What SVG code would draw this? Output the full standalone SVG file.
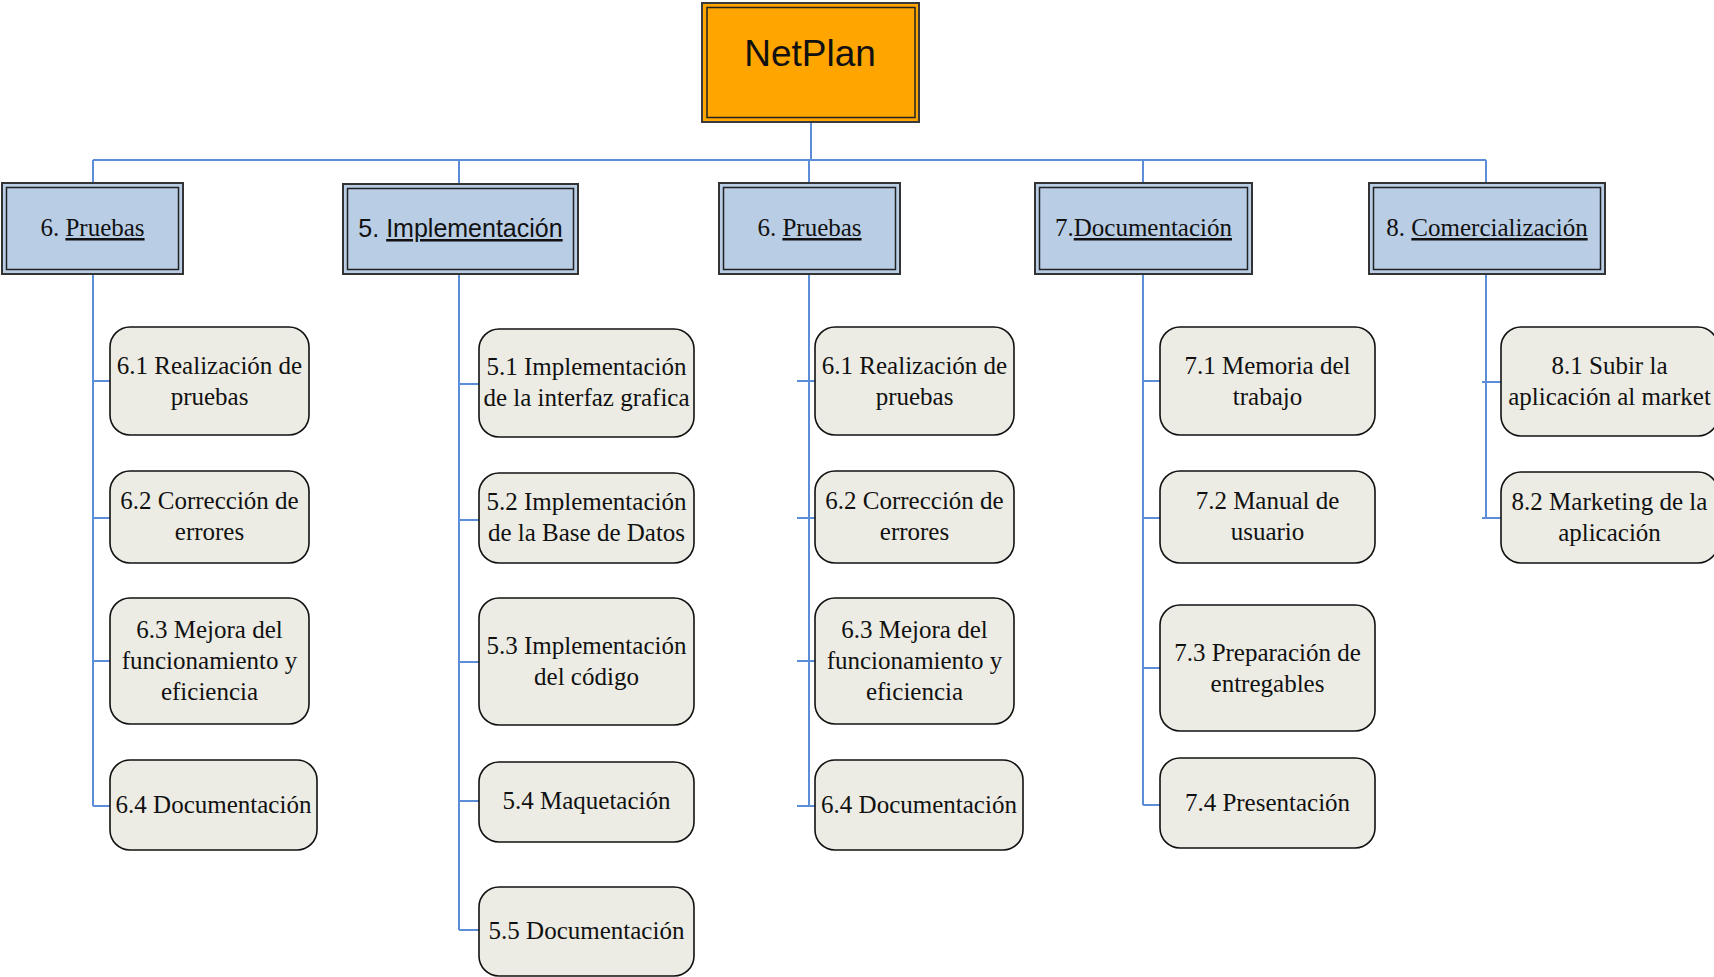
<svg xmlns="http://www.w3.org/2000/svg" width="1714" height="977" viewBox="0 0 1714 977">
  <style>
    .conn { fill: none; stroke: #5B8DD9; stroke-width: 2; }
    .root-outer { fill: #FFA500; stroke: #3a3a3a; stroke-width: 2; }
    .root-inner { fill: none; stroke: #222; stroke-width: 1.5; }
    .hdr-outer { fill: #B9CDE5; stroke: #333; stroke-width: 2; }
    .hdr-inner { fill: none; stroke: #222; stroke-width: 1.5; }
    .task { fill: #ECECE4; stroke: #111; stroke-width: 1.6; }
    .sans { font-family: "Liberation Sans", Arial, sans-serif; fill: #111; text-anchor: middle; }
    .serif { font-family: "Liberation Serif", "Times New Roman", serif; font-size: 25px; fill: #111; text-anchor: middle; }
    .u { text-decoration: underline; }
  </style>

  <rect width="1714" height="977" fill="#ffffff"/>

  <!-- connector lines -->
  <g id="connectors">
    <path class="conn" d="M811 122 V160 M93 160 H1486"/>
    <path class="conn" d="M93 160 V183 M459 160 V184 M809 160 V183 M1143 160 V183 M1486 160 V183"/>
    <!-- branch 6 (left) -->
    <path class="conn" d="M93 274 V806 M93 381 H110 M93 518 H110 M93 661 H110 M93 806 H110"/>
    <!-- branch 5 -->
    <path class="conn" d="M459 274 V930 M459 384 H479 M459 520 H479 M459 662 H479 M459 801 H479 M459 930 H479"/>
    <!-- branch 6 (middle) -->
    <path class="conn" d="M809 274 V806 M797 381 H815 M797 518 H815 M797 661 H815 M797 806 H815"/>
    <!-- branch 7 -->
    <path class="conn" d="M1143 274 V805 M1143 381 H1160 M1143 518 H1160 M1143 668 H1160 M1143 805 H1160"/>
    <!-- branch 8 -->
    <path class="conn" d="M1486 274 V518 M1482 382 H1501 M1482 518 H1501"/>
  </g>

  <!-- root -->
  <g id="netplan">
    <rect class="root-outer" x="702" y="3" width="217" height="119"/>
    <rect class="root-inner" x="707" y="7.5" width="208" height="110"/>
    <text class="sans" x="810" y="66" font-size="37">NetPlan</text>
  </g>

  <!-- phase headers -->
  <g id="h-pruebas-a">
    <rect class="hdr-outer" x="2" y="183" width="181" height="91"/>
    <rect class="hdr-inner" x="6.5" y="187.5" width="172" height="82"/>
    <text class="serif" x="92.5" y="236">6. <tspan class="u">Pruebas</tspan></text>
  </g>
  <g id="h-implementacion">
    <rect class="hdr-outer" x="343" y="184" width="235" height="90"/>
    <rect class="hdr-inner" x="347.5" y="188.5" width="226" height="81"/>
    <text class="sans" x="460.5" y="237" font-size="25">5. <tspan class="u">Implementación</tspan></text>
  </g>
  <g id="h-pruebas-b">
    <rect class="hdr-outer" x="719" y="183" width="181" height="91"/>
    <rect class="hdr-inner" x="723.5" y="187.5" width="172" height="82"/>
    <text class="serif" x="809.5" y="236">6. <tspan class="u">Pruebas</tspan></text>
  </g>
  <g id="h-documentacion">
    <rect class="hdr-outer" x="1035" y="183" width="217" height="91"/>
    <rect class="hdr-inner" x="1039.5" y="187.5" width="208" height="82"/>
    <text class="serif" x="1143.5" y="236">7.<tspan class="u">Documentación</tspan></text>
  </g>
  <g id="h-comercializacion">
    <rect class="hdr-outer" x="1369" y="183" width="236" height="91"/>
    <rect class="hdr-inner" x="1373.5" y="187.5" width="227" height="82"/>
    <text class="serif" x="1487" y="236">8. <tspan class="u">Comercialización</tspan></text>
  </g>

  <!-- branch 6 (left) tasks -->
  <g id="t6-1a">
    <rect class="task" x="110" y="327" width="199" height="108" rx="20"/>
    <text class="serif" x="209.5" y="374">6.1 Realización de</text>
    <text class="serif" x="209.5" y="405">pruebas</text>
  </g>
  <g id="t6-2a">
    <rect class="task" x="110" y="471" width="199" height="92" rx="20"/>
    <text class="serif" x="209.5" y="509">6.2 Corrección de</text>
    <text class="serif" x="209.5" y="540">errores</text>
  </g>
  <g id="t6-3a">
    <rect class="task" x="110" y="598" width="199" height="126" rx="20"/>
    <text class="serif" x="209.5" y="638">6.3 Mejora del</text>
    <text class="serif" x="209.5" y="669">funcionamiento y</text>
    <text class="serif" x="209.5" y="700">eficiencia</text>
  </g>
  <g id="t6-4a">
    <rect class="task" x="110" y="760" width="207" height="90" rx="20"/>
    <text class="serif" x="213.5" y="813">6.4 Documentación</text>
  </g>

  <!-- branch 5 tasks -->
  <g id="t5-1">
    <rect class="task" x="479" y="329" width="215" height="108" rx="20"/>
    <text class="serif" x="586.5" y="375">5.1 Implementación</text>
    <text class="serif" x="586.5" y="406">de la interfaz grafica</text>
  </g>
  <g id="t5-2">
    <rect class="task" x="479" y="473" width="215" height="90" rx="20"/>
    <text class="serif" x="586.5" y="510">5.2 Implementación</text>
    <text class="serif" x="586.5" y="541">de la Base de Datos</text>
  </g>
  <g id="t5-3">
    <rect class="task" x="479" y="598" width="215" height="127" rx="20"/>
    <text class="serif" x="586.5" y="654">5.3 Implementación</text>
    <text class="serif" x="586.5" y="685">del código</text>
  </g>
  <g id="t5-4">
    <rect class="task" x="479" y="762" width="215" height="80" rx="20"/>
    <text class="serif" x="586.5" y="809">5.4 Maquetación</text>
  </g>
  <g id="t5-5">
    <rect class="task" x="479" y="887" width="215" height="89" rx="20"/>
    <text class="serif" x="586.5" y="939">5.5 Documentación</text>
  </g>

  <!-- branch 6 (middle) tasks -->
  <g id="t6-1b">
    <rect class="task" x="815" y="327" width="199" height="108" rx="20"/>
    <text class="serif" x="914.5" y="374">6.1 Realización de</text>
    <text class="serif" x="914.5" y="405">pruebas</text>
  </g>
  <g id="t6-2b">
    <rect class="task" x="815" y="471" width="199" height="92" rx="20"/>
    <text class="serif" x="914.5" y="509">6.2 Corrección de</text>
    <text class="serif" x="914.5" y="540">errores</text>
  </g>
  <g id="t6-3b">
    <rect class="task" x="815" y="598" width="199" height="126" rx="20"/>
    <text class="serif" x="914.5" y="638">6.3 Mejora del</text>
    <text class="serif" x="914.5" y="669">funcionamiento y</text>
    <text class="serif" x="914.5" y="700">eficiencia</text>
  </g>
  <g id="t6-4b">
    <rect class="task" x="815" y="760" width="208" height="90" rx="20"/>
    <text class="serif" x="919" y="813">6.4 Documentación</text>
  </g>

  <!-- branch 7 tasks -->
  <g id="t7-1">
    <rect class="task" x="1160" y="327" width="215" height="108" rx="20"/>
    <text class="serif" x="1267.5" y="374">7.1 Memoria del</text>
    <text class="serif" x="1267.5" y="405">trabajo</text>
  </g>
  <g id="t7-2">
    <rect class="task" x="1160" y="471" width="215" height="92" rx="20"/>
    <text class="serif" x="1267.5" y="509">7.2 Manual de</text>
    <text class="serif" x="1267.5" y="540">usuario</text>
  </g>
  <g id="t7-3">
    <rect class="task" x="1160" y="605" width="215" height="126" rx="20"/>
    <text class="serif" x="1267.5" y="661">7.3 Preparación de</text>
    <text class="serif" x="1267.5" y="692">entregables</text>
  </g>
  <g id="t7-4">
    <rect class="task" x="1160" y="758" width="215" height="90" rx="20"/>
    <text class="serif" x="1267.5" y="811">7.4 Presentación</text>
  </g>

  <!-- branch 8 tasks -->
  <g id="t8-1">
    <rect class="task" x="1501" y="327" width="217" height="109" rx="20"/>
    <text class="serif" x="1609.5" y="374">8.1 Subir la</text>
    <text class="serif" x="1609.5" y="405">aplicación al market</text>
  </g>
  <g id="t8-2">
    <rect class="task" x="1501" y="472" width="217" height="91" rx="20"/>
    <text class="serif" x="1609.5" y="510">8.2 Marketing de la</text>
    <text class="serif" x="1609.5" y="541">aplicación</text>
  </g>
</svg>
